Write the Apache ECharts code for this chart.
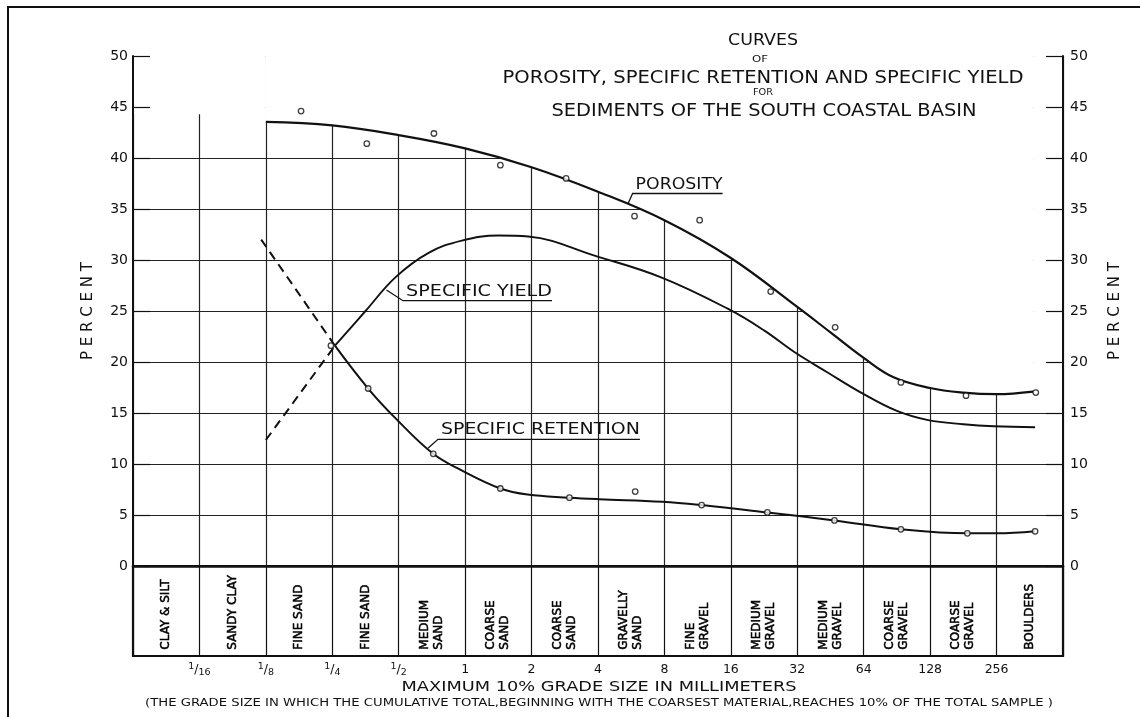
<!DOCTYPE html>
<html>
<head>
<meta charset="utf-8">
<title>Porosity, specific retention and specific yield</title>
<script src="https://cdn.jsdelivr.net/npm/echarts@6/dist/echarts.min.js"></script>
<style>
  html, body { margin: 0; padding: 0; background: #fff; }
  #chart { width: 1140px; height: 717px; }
</style>
</head>
<body>
<div id="chart"></div>
<script>
// ---- data -------------------------------------------------------------
// Grade classes, one per column of the lower band (left to right)
const gradeClasses = [
  'CLAY & SILT', 'SANDY CLAY', 'FINE SAND', 'FINE SAND',
  'MEDIUM\nSAND', 'COARSE\nSAND', 'COARSE\nSAND', 'GRAVELLY\nSAND',
  'FINE\nGRAVEL', 'MEDIUM\nGRAVEL', 'MEDIUM\nGRAVEL',
  'COARSE\nGRAVEL', 'COARSE\nGRAVEL', 'BOULDERS'
];
// Grade size (mm) at each boundary between neighbouring columns
const sizeTicks = ['1/16', '1/8', '1/4', '1/2', '1', '2', '4', '8', '16', '32', '64', '128', '256'];

// x = position on the grade scale (column units), y = percent
const porositySamples = [
  [2.53, 44.6], [3.52, 41.4], [4.53, 42.4], [5.53, 39.3], [6.52, 38.0], [7.55, 34.3],
  [8.53, 33.9], [9.60, 26.9], [10.57, 23.4], [11.56, 18.0], [12.54, 16.7], [13.59, 17.0]
];
const porosityCurve = [
  [2.00, 43.55], [3.00, 43.2], [4.00, 42.25], [5.00, 40.95], [6.00, 39.1], [7.00, 36.7],
  [8.00, 33.9], [9.00, 30.2], [10.00, 25.4], [10.50, 22.9], [11.00, 20.4], [11.45, 18.5],
  [12.00, 17.45], [12.50, 17.0], [13.00, 16.85], [13.55, 17.1]
];
const retentionSamples = [
  [2.98, 21.6], [3.54, 17.4], [4.52, 11.0], [5.53, 7.6], [6.57, 6.7], [7.56, 7.3],
  [8.56, 5.97], [9.55, 5.25], [10.56, 4.47], [11.56, 3.6], [12.56, 3.2], [13.58, 3.4]
];
const retentionCurve = [
  [3.04, 21.6], [3.54, 17.4], [3.95, 14.5], [4.52, 11.0], [4.94, 9.4], [5.53, 7.6],
  [5.94, 7.0], [6.57, 6.7], [7.02, 6.55], [7.97, 6.3], [8.56, 5.97], [9.55, 5.25],
  [10.56, 4.47], [11.56, 3.6], [12.56, 3.2], [13.00, 3.2], [13.58, 3.4]
];
const retentionExtension = [[1.93, 32.0], [3.04, 21.6]];
const yieldCurve = [
  [3.04, 21.6], [3.50, 25.0], [3.95, 28.3], [4.45, 30.7], [4.95, 31.9], [5.50, 32.4],
  [5.95, 32.3], [6.96, 30.4], [7.95, 28.3], [8.96, 25.2], [9.50, 23.1], [9.95, 21.0],
  [10.45, 19.0], [10.96, 17.0], [11.50, 15.2], [11.97, 14.3], [12.50, 13.9], [12.96, 13.7],
  [13.58, 13.6]
];
const yieldExtension = [[2.00, 12.35], [3.04, 21.6]];

// ---- drawing ----------------------------------------------------------
const INK = '#111111';
const FONT = '"DejaVu Sans", sans-serif';
const chart = echarts.init(document.getElementById('chart'), null, { renderer: 'canvas' });

// Lettering is drawn wide, so text is stretched to its lettered width
const measureCtx = document.createElement('canvas').getContext('2d');
function textWidth(text, size) {
  measureCtx.font = size + 'px "DejaVu Sans"';
  return measureCtx.measureText(text).width;
}
function letteredText(text, x, y, size, width, align) {
  return {
    type: 'text', x: x, y: y, z: 20, silent: true,
    scaleX: width / textWidth(text, size),
    style: {
      text: text, fill: INK, font: size + 'px "DejaVu Sans"',
      textAlign: align || 'center', textVerticalAlign: 'middle'
    }
  };
}

function fractionLabel(v) {
  if (v < 1 || v > sizeTicks.length) return '';
  const t = sizeTicks[v - 1];
  const m = /^(\d+)\/(\d+)$/.exec(t);
  return m ? '{num|' + m[1] + '}{sl|/}{den|' + m[2] + '}' : '{n|' + t + '}';
}

const percentAxis = { type: 'value', gridIndex: 0, min: 0, max: 50, interval: 5 };
const gradeAxis = { type: 'value', min: 0, max: 14 };

const coverStyle = {
  type: 'line', xAxisIndex: 0, yAxisIndex: 0, symbol: 'none', silent: true, z: 1,
  lineStyle: { width: 0, opacity: 0 },
  areaStyle: { color: '#ffffff', opacity: 1, origin: 'end' }
};
const markerStyle = {
  type: 'scatter', xAxisIndex: 0, yAxisIndex: 0, z: 5, symbol: 'circle', symbolSize: 5.5,
  itemStyle: { color: '#ffffff', borderColor: INK, borderWidth: 1.3 }
};

const option = {
  animation: false,
  backgroundColor: '#ffffff',
  grid: [
    { left: 133, right: 77, top: 56, bottom: 151, outerBoundsMode: 'none' },
    { left: 133, right: 77, top: 566, bottom: 61, outerBoundsMode: 'none',
      show: true, borderColor: INK, borderWidth: 2.2 }
  ],
  xAxis: [
    Object.assign({}, gradeAxis, {
      gridIndex: 0, position: 'bottom', z: 6,
      axisLine: { show: true, onZero: false, lineStyle: { color: INK, width: 2.5 } },
      axisTick: { show: false }, axisLabel: { show: false }, splitLine: { show: false }
    }),
    Object.assign({}, gradeAxis, {
      gridIndex: 0, position: 'top', interval: 1, z: 0,
      axisLine: { show: false }, axisTick: { show: false }, axisLabel: { show: false },
      splitLine: { show: true, lineStyle: { color: '#222', width: 1.2 } }
    }),
    Object.assign({}, gradeAxis, {
      gridIndex: 1, position: 'bottom', interval: 1,
      axisLine: { show: false }, axisTick: { show: false },
      splitLine: { show: true, lineStyle: { color: INK, width: 1.2 } },
      axisLabel: {
        show: true, margin: 6, color: INK, fontFamily: FONT, formatter: fractionLabel,
        rich: {
          n: { fontSize: 12.5, lineHeight: 16, fontFamily: FONT, color: INK },
          num: { fontSize: 9.5, lineHeight: 10, verticalAlign: 'top', fontFamily: FONT, color: INK },
          sl: { fontSize: 12.5, lineHeight: 16, fontFamily: FONT, color: INK },
          den: { fontSize: 9.5, lineHeight: 10, verticalAlign: 'bottom', fontFamily: FONT, color: INK }
        }
      }
    })
  ],
  yAxis: [
    Object.assign({}, percentAxis, {
      position: 'left', z: 6,
      axisLine: { show: true, onZero: false, lineStyle: { color: INK, width: 2 } },
      axisTick: { show: true, inside: true, length: 17, lineStyle: { color: INK, width: 1.2 } },
      axisLabel: { show: true, margin: 5, color: INK, fontSize: 14, fontFamily: FONT },
      splitLine: { show: false },
      name: 'P E R C E N T', nameLocation: 'middle', nameRotate: 90, nameGap: 37,
      nameTextStyle: { color: INK, fontSize: 15, fontFamily: FONT }
    }),
    Object.assign({}, percentAxis, {
      position: 'right', z: 6,
      axisLine: { show: true, onZero: false, lineStyle: { color: INK, width: 2 } },
      axisTick: { show: true, inside: true, length: 17, lineStyle: { color: INK, width: 1.2 } },
      axisLabel: { show: true, margin: 7, color: INK, fontSize: 14, fontFamily: FONT },
      splitLine: { show: false },
      name: 'P E R C E N T', nameLocation: 'middle', nameRotate: 90, nameGap: 45,
      nameTextStyle: { color: INK, fontSize: 15, fontFamily: FONT }
    }),
    Object.assign({}, percentAxis, {
      position: 'left', z: 0,
      axisLine: { show: false }, axisTick: { show: false }, axisLabel: { show: false },
      splitLine: { show: true, lineStyle: { color: '#222', width: 1 } }
    }),
    { type: 'value', gridIndex: 1, min: 0, max: 1, show: false }
  ],
  series: [
    // blank out the ruling above the porosity curve, left and right of it
    Object.assign({}, coverStyle, {
      name: 'cover-left',
      data: [[0, 44.3], [1.5, 44.3], [1.5, porosityCurve[0][1]], porosityCurve[0]]
    }),
    Object.assign({}, coverStyle, {
      name: 'cover-right',
      data: [porosityCurve[porosityCurve.length - 1], [14, porosityCurve[porosityCurve.length - 1][1]]]
    }),
    {
      name: 'Porosity', type: 'line', xAxisIndex: 0, yAxisIndex: 0, z: 2,
      data: porosityCurve, smooth: 0.4, symbol: 'none',
      lineStyle: { color: INK, width: 2.2 },
      areaStyle: { color: '#ffffff', opacity: 1, origin: 'end' }
    },
    {
      name: 'Specific yield (extended)', type: 'line', xAxisIndex: 0, yAxisIndex: 0, z: 3,
      data: yieldExtension, symbol: 'none',
      lineStyle: { color: INK, width: 2, type: [9, 6] }
    },
    {
      name: 'Specific yield', type: 'line', xAxisIndex: 0, yAxisIndex: 0, z: 3,
      data: yieldCurve, smooth: 0.4, symbol: 'none',
      lineStyle: { color: INK, width: 1.9 }
    },
    {
      name: 'Specific retention (extended)', type: 'line', xAxisIndex: 0, yAxisIndex: 0, z: 3,
      data: retentionExtension, symbol: 'none',
      lineStyle: { color: INK, width: 2, type: [9, 6] }
    },
    {
      name: 'Specific retention', type: 'line', xAxisIndex: 0, yAxisIndex: 0, z: 3,
      data: retentionCurve, smooth: 0.4, symbol: 'none',
      lineStyle: { color: INK, width: 2 }
    },
    Object.assign({}, markerStyle, { name: 'Porosity samples', data: porositySamples }),
    Object.assign({}, markerStyle, { name: 'Retention samples', data: retentionSamples }),
    {
      name: 'Grade classes', type: 'scatter', xAxisIndex: 2, yAxisIndex: 3, silent: true,
      symbolSize: 1, itemStyle: { color: 'rgba(255,255,255,0)' },
      data: gradeClasses.map((g, i) => ({ name: g, value: [i + 0.5, 0.07] })),
      label: {
        show: true, position: 'inside', formatter: '{b}', rotate: 90,
        align: 'left', verticalAlign: 'middle', opacity: 1,
        textBorderColor: '#000', textBorderWidth: 0.5, textShadowBlur: 0,
        color: '#000', fontSize: 12, lineHeight: 14, fontFamily: FONT
      }
    }
  ]
};
chart.setOption(option);

// ---- lettering: title, axis title, curve names with leaders, border ---
function px(pt) { return chart.convertToPixel({ xAxisIndex: 0, yAxisIndex: 0 }, pt); }

const curveNotes = [
  { text: 'POROSITY', at: [7.45, 35.5], lead: [4.7, -10.4], width: 90, size: 16 },
  { text: 'SPECIFIC YIELD', at: [3.815, 27.06], lead: [16.6, 10.7], width: 149, size: 16 },
  { text: 'SPECIFIC RETENTION', at: [4.44, 11.54], lead: [10, -9], width: 202, size: 16 }
];
const plotMid = px([7, 0])[0];
const elements = [
  { type: 'polyline', z: 20, silent: true,
    shape: { points: [[8, 717], [8, 7], [1140, 7]] },
    style: { stroke: INK, lineWidth: 2, fill: null } },
  letteredText('CURVES', 763, 41.5, 15, 70),
  letteredText('OF', 760, 60, 9, 16),
  letteredText('POROSITY, SPECIFIC RETENTION AND SPECIFIC YIELD', 763, 78, 17.5, 521),
  letteredText('FOR', 763, 93, 9, 20),
  letteredText('SEDIMENTS OF THE SOUTH COASTAL BASIN', 764, 111.5, 18, 425),
  letteredText('MAXIMUM 10% GRADE SIZE IN MILLIMETERS', plotMid + 1, 687, 14, 395),
  letteredText('(THE GRADE SIZE IN WHICH THE CUMULATIVE TOTAL,BEGINNING WITH THE COARSEST MATERIAL,REACHES 10% OF THE TOTAL SAMPLE )',
    plotMid + 1, 703.5, 10, 908)
];
curveNotes.forEach(n => {
  const a = px(n.at);
  const s = [a[0] + n.lead[0], a[1] + n.lead[1]];
  const e = [s[0] + n.width, s[1]];
  elements.push({
    type: 'polyline', z: 20, silent: true,
    shape: { points: [a, s, e] },
    style: { stroke: INK, lineWidth: 1.3, fill: null }
  });
  elements.push(letteredText(n.text, s[0] + 3, s[1] - 9, n.size, n.width - 3, 'left'));
});
chart.setOption({ graphic: { elements: elements } });
</script>
</body>
</html>
